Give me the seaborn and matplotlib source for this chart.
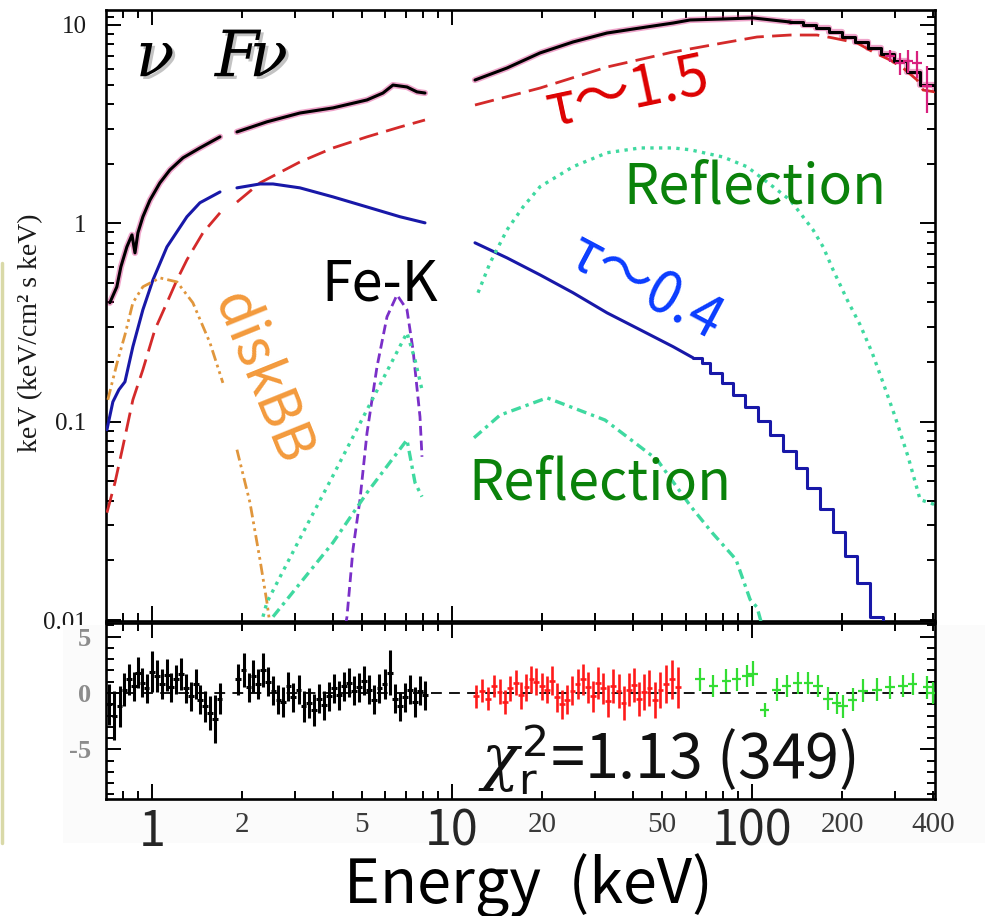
import matplotlib
matplotlib.use("Agg")
import pandas as pd
import matplotlib.pyplot as plt
import matplotlib.patheffects as pe
from matplotlib.lines import Line2D
from matplotlib.patches import Rectangle
from matplotlib.ticker import FixedLocator, FixedFormatter, NullFormatter, MultipleLocator
import seaborn as sns

# ---------------- data (keV, keV^2/cm^2/s/keV) ----------------
total_lo_E = [0.724, 0.764, 0.788, 0.825, 0.858, 0.878, 0.898, 0.933, 0.985, 1.063, 1.148, 1.269, 1.445, 1.686]
total_lo_V = [0.398, 0.479, 0.604, 0.761, 0.875, 0.710, 0.896, 1.08, 1.31, 1.60, 1.86, 2.14, 2.40, 2.73]
total_mid_E = [1.920, 2.417, 3.114, 4.012, 5.21, 5.888, 6.358, 7.079, 7.643, 8.128]
total_mid_V = [2.89, 3.25, 3.60, 3.82, 4.19, 4.54, 4.98, 4.87, 4.60, 4.54]
total_hi_E = [11.93, 15.25, 19.65, 25.31, 32.86, 42.34, 54.55, 62.13, 80.1, 100.8, 133.9]
total_hi_V = [5.28, 6.07, 7.23, 8.21, 9.11, 9.66, 10.23, 10.60, 10.72, 10.85, 10.35]
total_step_E = [133.9, 147.9, 163.4, 180.6, 199.5, 220.4, 243.6, 269.2, 297.4, 328.6, 363.1, 407.0]
total_step_V = [10.35, 10.0, 9.66, 9.22, 8.70, 8.21, 7.66, 7.14, 6.58, 5.80, 4.98, 4.70]

tau15_lo_E = [0.708, 0.753, 0.800, 0.864, 0.933, 1.023, 1.122, 1.212, 1.308, 1.479, 1.686]
tau15_lo_V = [0.0348, 0.0493, 0.0748, 0.129, 0.183, 0.291, 0.398, 0.519, 0.655, 0.896, 1.13]
tau15_mid_E = [1.920, 2.291, 3.114, 4.012, 5.21, 6.709, 8.128]
tau15_mid_V = [1.28, 1.60, 2.04, 2.40, 2.73, 3.06, 3.32]
tau15_hi_E = [11.93, 19.65, 32.86, 54.55, 80.1, 103.9, 133.9, 164.7, 186.2, 223.9, 253.1, 288.4, 318.7, 354.8, 371.5, 407.0]
tau15_hi_V = [3.95, 4.81, 6.14, 7.31, 8.12, 8.70, 8.90, 8.90, 8.60, 8.12, 7.31, 6.66, 6.07, 5.28, 4.70, 4.60]

tau04_lo_E = [0.708, 0.741, 0.776, 0.813, 0.864, 0.933, 1.008, 1.122, 1.308, 1.445, 1.686]
tau04_lo_V = [0.0912, 0.126, 0.145, 0.159, 0.239, 0.367, 0.519, 0.761, 1.08, 1.27, 1.44]
tau04_mid_E = [1.920, 2.291, 2.532, 3.114, 4.012, 5.21, 6.709, 8.128]
tau04_mid_V = [1.51, 1.58, 1.58, 1.51, 1.36, 1.21, 1.08, 1.006]
tau04_hi_E = [11.93, 15.25, 19.65, 25.31, 32.86, 42.34, 54.55, 63.6]
tau04_hi_V = [0.798, 0.670, 0.550, 0.447, 0.354, 0.291, 0.239, 0.210]
tau04_step_E = [63.6, 68.1, 72.4, 79.4, 86.5, 94.8, 104.7, 114.8, 126.9, 140.2, 152.5, 168.5, 186.2, 204.2, 223.9, 247.5, 273.4]
tau04_step_V = [0.210, 0.198, 0.177, 0.157, 0.137, 0.119, 0.1012, 0.0860, 0.0714, 0.0587, 0.0465, 0.0364, 0.0279, 0.0211, 0.0153, 0.0104, 0.0088]

disk_lo_E = [0.713, 0.741, 0.770, 0.813, 0.864, 0.933, 1.063, 1.212, 1.369, 1.561, 1.724]
disk_lo_V = [0.129, 0.163, 0.205, 0.274, 0.398, 0.479, 0.531, 0.507, 0.398, 0.250, 0.157]
disk_mid_E = [1.920, 2.122, 2.291, 2.417, 2.474]
disk_mid_V = [0.0723, 0.0391, 0.0202, 0.0123, 0.0095]

fek_E = [4.33, 4.467, 4.677, 4.936, 5.21, 5.623, 6.072, 6.556, 7.079, 7.413, 7.822, 7.943]
fek_V = [0.0079, 0.0104, 0.0227, 0.0405, 0.0880, 0.189, 0.338, 0.436, 0.367, 0.231, 0.106, 0.0666]

refl1_lo_E = [2.344, 2.417, 3.114, 4.012, 5.21, 7.079, 7.53, 7.943]
refl1_lo_V = [0.0104, 0.0123, 0.0258, 0.0535, 0.115, 0.281, 0.205, 0.145]
refl2_lo_E = [2.532, 4.012, 5.21, 7.079, 7.53, 7.943]
refl2_lo_V = [0.0104, 0.0246, 0.0439, 0.0811, 0.0493, 0.0419]
refl1_hi_E = [12.21, 13.39, 15.25, 17.25, 19.65, 25.31, 32.86, 42.34, 54.55, 62.13, 80.1, 96.2, 117.5, 133.9,
              144.5, 159.7, 172.5, 186.2, 207.4, 229.1, 251.2, 273.4, 299.7, 331.1, 363.1, 407.0]
refl1_hi_V = [0.447, 0.632, 0.927, 1.21, 1.53, 1.93, 2.27, 2.40, 2.40, 2.35, 2.16, 1.93, 1.53, 1.31,
              1.13, 0.927, 0.761, 0.583, 0.412, 0.308, 0.223, 0.157, 0.106, 0.0666, 0.0405, 0.0382]
refl2_hi_E = [11.84, 14.45, 20.74, 32.36, 48.24, 62.6, 73.6, 88.4, 98.5, 103.9, 110.0]
refl2_hi_V = [0.0830, 0.108, 0.132, 0.102, 0.0644, 0.0373, 0.0276, 0.0202, 0.0127, 0.0116, 0.0085]

data_hi_E = [288.0, 312.0, 331.0, 355.0, 383.0]
data_hi_V = [7.0, 6.4, 6.6, 6.4, 4.9]
data_hi_err = [0.5, 0.8, 0.9, 1.0, 1.3]

# residuals (chi)
res_lo_E = [0.72, 0.75, 0.78, 0.81, 0.84, 0.87, 0.90, 0.93, 0.96, 1.00, 1.04, 1.08, 1.12, 1.16, 1.20, 1.25,
            1.30, 1.35, 1.40, 1.45, 1.50, 1.56, 1.62, 1.68,
            1.94, 2.02, 2.10, 2.18, 2.26, 2.35, 2.44, 2.54, 2.64, 2.74, 2.85, 2.96, 3.08, 3.20, 3.33, 3.46,
            3.60, 3.74, 3.89, 4.04, 4.20, 4.37, 4.54, 4.72, 4.91, 5.10, 5.30, 5.51, 5.73, 5.96, 6.20, 6.45,
            6.70, 6.97, 7.25, 7.54, 7.84, 8.15]
res_lo_V = [-1.0, -2.0, -1.2, 0.3, 1.2, 0.6, 1.8, 0.9, 0.4, 1.9, 1.5, 0.8, 1.6, 0.5, 1.2, 1.7,
            0.4, -0.3, 0.8, -0.6, -1.2, -1.8, -2.3, -0.5,
            1.2, 2.0, 0.5, 1.5, 0.8, 2.0, 1.0, 0.2, -0.6, -0.8, 0.6, -0.4, 0.3, -1.2, -0.9, -1.5,
            -0.5, -1.1, -0.3, 0.4, -0.2, 0.6, 0.9, 0.2, 0.5, 1.1, 0.3, -0.6, 0.4, 0.8, 1.8, -0.5,
            -1.2, -0.4, 0.3, -0.8, 0.2, -0.2]
res_lo_err = [1.8, 2.2, 1.8, 1.5, 1.4, 1.3, 1.4, 1.3, 1.3, 1.8, 1.4, 1.3, 1.4, 1.3, 1.3, 1.4,
              1.3, 1.3, 1.3, 1.3, 1.4, 1.5, 2.1, 1.4,
              1.4, 1.5, 1.3, 1.4, 1.3, 1.5, 1.3, 1.3, 1.3, 1.3, 1.3, 1.3, 1.3, 1.4, 1.3, 1.4,
              1.3, 1.3, 1.3, 1.3, 1.3, 1.3, 1.3, 1.3, 1.3, 1.3, 1.3, 1.3, 1.3, 1.3, 2.0, 1.3,
              1.3, 1.3, 1.3, 1.3, 1.3, 1.3]
res_mid_E = [12.0, 12.6, 13.2, 13.8, 14.4, 15.0, 15.6, 16.3, 17.0, 17.7, 18.4, 19.1, 19.9, 20.7, 21.5, 22.4,
             23.3, 24.2, 25.2, 26.2, 27.3, 28.4, 29.5, 30.7, 31.9, 33.2, 34.5, 35.9, 37.3, 38.8, 40.4, 42.0,
             43.7, 45.5, 47.5, 49.5, 51.7, 54.0, 56.5]
res_mid_V = [-0.3, 0.2, -0.5, 0.6, 0.1, -0.8, 0.4, 0.9, -0.2, 0.5, 1.2, 1.0, 0.6, 0.3, 1.1, -0.4,
             -1.0, -0.6, 0.2, 0.8, 1.2, 0.5, -0.3, 0.9, 0.4, -0.7, 0.6, 0.2, -0.9, 0.3, 0.7, -0.5,
             0.1, 0.4, -0.6, 0.3, 0.8, 1.2, 0.5]
res_mid_err = [1.0, 1.0, 1.0, 1.0, 1.1, 1.1, 1.1, 1.1, 1.2, 1.2, 1.2, 1.2, 1.2, 1.2, 1.3, 1.3,
               1.3, 1.3, 1.3, 1.3, 1.4, 1.4, 1.4, 1.4, 1.4, 1.4, 1.5, 1.5, 1.5, 1.5, 1.5, 1.5,
               1.6, 1.6, 1.6, 1.6, 1.7, 1.7, 1.8]
res_hi_E = [67.1, 74.2, 82.1, 88.9, 96.2, 100.8, 110.2, 120.9, 130.6, 141.9, 153.9, 165.9, 179.1, 191.6,
            201.1, 216.8, 234.4, 261.0, 288.4, 318.7, 343.6, 383.2, 401.0]
res_hi_V = [1.2, 0.6, 1.1, 1.2, 1.5, 1.7, -1.5, 0.3, 0.6, 0.9, 0.9, 0.6, -0.5, -0.9,
            -1.2, -0.6, 0.2, 0.3, 0.5, 0.6, 0.8, 0.5, 0.0]
res_hi_err = [1.0, 1.0, 1.0, 1.0, 1.0, 1.1, 0.6, 1.0, 1.0, 1.0, 1.0, 1.0, 1.0, 1.0,
              1.0, 1.0, 1.0, 1.0, 1.0, 1.0, 1.0, 1.0, 1.0]

# ---------------- figure ----------------
sns.set_theme(style="ticks")
plt.rcParams["font.family"] = ["Noto Sans CJK JP", "DejaVu Sans"]
plt.rcParams["mathtext.fontset"] = "dejavuserif"
plt.rcParams["axes.unicode_minus"] = False

W, H = 985, 916
fig = plt.figure(figsize=(W / 100, H / 100), dpi=100)
fig.patch.set_facecolor("white")


def fx(p):
    return p / W


def fy(p):
    return 1 - p / H


ax = fig.add_axes([fx(106), fy(621), fx(935) - fx(106), fy(10) - fy(621)])
axr = fig.add_axes([fx(106), fy(799), fx(935) - fx(106), fy(623) - fy(799)])
ax.set_zorder(0)
axr.set_zorder(2)
# pale backdrop of the residual strip (covers the lower half of the "0.01" label, as in the reference)
fig.add_artist(Rectangle((fx(63), fy(843)), 1 - fx(63), fy(625) - fy(843), transform=fig.transFigure,
                         facecolor="#fbfbfb", edgecolor="none", zorder=1))

ax.set_xscale("log")
ax.set_yscale("log")
axr.set_xscale("log")


def draw(axis, E, V, color, ls="-", lw=2.0, ds="default", alpha=1.0, z=3):
    df = pd.DataFrame({"E": E, "V": V})
    sns.lineplot(data=df, x="E", y="V", ax=axis, color=color, linestyle=ls,
                 linewidth=lw, drawstyle=ds, alpha=alpha, sort=False,
                 estimator=None, legend=False, zorder=z)


MAG = "#d8207e"
RED = "#d42a2a"
BLUE = "#1818a8"
ORANGE = "#e0963c"
PURPLE = "#7a2fc8"
REFL = "#3fd9a0"

# magenta data halo under the total model
for E, V in [(total_lo_E, total_lo_V), (total_mid_E, total_mid_V), (total_hi_E, total_hi_V)]:
    draw(ax, E, V, MAG, lw=4.5, alpha=0.4, z=2)
draw(ax, total_step_E, total_step_V, MAG, lw=4.5, alpha=0.4, z=2, ds="steps-post")

# components
RDASH = (0, (7, 3))
for E, V in [(tau15_lo_E, tau15_lo_V), (tau15_mid_E, tau15_mid_V), (tau15_hi_E, tau15_hi_V)]:
    draw(ax, E, V, RED, ls=RDASH, lw=2.0)
for E, V in [(tau04_lo_E, tau04_lo_V), (tau04_mid_E, tau04_mid_V), (tau04_hi_E, tau04_hi_V)]:
    draw(ax, E, V, BLUE, lw=2.2)
draw(ax, tau04_step_E, tau04_step_V, BLUE, lw=2.2, ds="steps-post")
ODASH = (0, (4, 1.5, 1, 1.5, 1, 1.5))
draw(ax, disk_lo_E, disk_lo_V, ORANGE, ls=ODASH, lw=2.0)
draw(ax, disk_mid_E, disk_mid_V, ORANGE, ls=ODASH, lw=2.0)
draw(ax, fek_E, fek_V, PURPLE, ls=(0, (3.5, 1.8)), lw=2.0)
DOT = (0, (1, 1.6))
DASHDOT = (0, (3, 1.5, 1, 1.5))
draw(ax, refl1_lo_E, refl1_lo_V, REFL, ls=DOT, lw=2.4)
draw(ax, refl2_lo_E, refl2_lo_V, REFL, ls=DASHDOT, lw=2.4)
draw(ax, refl1_hi_E, refl1_hi_V, REFL, ls=DOT, lw=2.4)
draw(ax, refl2_hi_E, refl2_hi_V, REFL, ls=DASHDOT, lw=2.4)

# total model
for E, V in [(total_lo_E, total_lo_V), (total_mid_E, total_mid_V), (total_hi_E, total_hi_V)]:
    draw(ax, E, V, "black", lw=2.2, z=4)
draw(ax, total_step_E, total_step_V, "black", lw=2.2, z=4, ds="steps-post")
ax.errorbar(data_hi_E, data_hi_V, yerr=data_hi_err, xerr=[e * 0.04 for e in data_hi_E],
            fmt="none", ecolor=MAG, elinewidth=1.6, zorder=5)

# residuals
axr.axhline(0, color="black", ls=(0, (6, 4)), lw=1.3, zorder=1)
axr.errorbar(res_lo_E, res_lo_V, yerr=res_lo_err, xerr=[e * 0.022 for e in res_lo_E],
             fmt="none", ecolor="black", elinewidth=2.2, zorder=3)
axr.errorbar(res_mid_E, res_mid_V, yerr=res_mid_err, xerr=[e * 0.022 for e in res_mid_E],
             fmt="none", ecolor="#ff1a1a", elinewidth=1.9, zorder=3)
axr.errorbar(res_hi_E, res_hi_V, yerr=res_hi_err, xerr=[e * 0.035 for e in res_hi_E],
             fmt="none", ecolor="#33dd33", elinewidth=1.6, zorder=3)

# ---------------- axes styling ----------------
minor_x = [0.8, 0.9, 2, 3, 4, 5, 6, 7, 8, 9, 20, 30, 40, 50, 60, 70, 80, 90, 200, 300, 400]
for a in (ax, axr):
    a.set_xlim(0.703, 407)
    a.set_xlabel("")
    a.set_ylabel("")
    a.set_facecolor("white")
    a.xaxis.set_major_locator(FixedLocator([1, 10, 100]))
    a.xaxis.set_minor_locator(FixedLocator(minor_x))
    a.tick_params(which="both", direction="in", top=True, right=True, width=1.4, color="black")
    a.tick_params(which="major", length=11)
    a.tick_params(which="minor", length=6)
    for s in a.spines.values():
        s.set_linewidth(1.9)
        s.set_color("black")

ax.set_ylim(0.0099, 11.9)
ax.set_yticks([0.01, 0.1, 1, 10])
ax.set_yticklabels(["0.01", "0.1", "1", "10"])
ax.yaxis.set_minor_locator(FixedLocator([m * d for d in (0.01, 0.1, 1) for m in range(2, 10)] + [11]))
ax.yaxis.set_minor_formatter(NullFormatter())
ax.tick_params(axis="x", which="both", labelbottom=False)
ax.tick_params(axis="y", which="major", pad=14)
for t in ax.get_yticklabels():
    t.set_fontfamily("Liberation Serif")
    t.set_fontsize(18)
    t.set_color("#1a1a1a")

axr.set_ylim(-9.4, 6.2)
axr.yaxis.set_major_locator(FixedLocator([-5, 0, 5]))
axr.yaxis.set_major_formatter(FixedFormatter(["-5", "0", "5"]))
axr.yaxis.set_minor_locator(MultipleLocator(1))
axr.tick_params(axis="y", which="major", pad=11)
for t in axr.get_yticklabels():
    t.set_fontfamily("Liberation Serif")
    t.set_fontsize(19)
    t.set_fontweight("bold")
    t.set_color("#8c8c8c")

axr.xaxis.set_major_formatter(FixedFormatter(["1", "10", "100"]))
minor_lab = {2: "2", 5: "5", 20: "20", 50: "50", 200: "200", 400: "400"}
axr.xaxis.set_minor_formatter(FixedFormatter([minor_lab.get(v, "") for v in minor_x]))
axr.tick_params(axis="x", which="major", pad=6, labelsize=35)
axr.tick_params(axis="x", which="minor", pad=9, labelsize=21, labelcolor="#3a3a3a")
for t in axr.get_xticklabels(minor=True):
    t.set_fontfamily("Liberation Serif")

# ---------------- text ----------------
fig.text(fx(31), fy(333), "keV (keV/cm² s keV)", rotation=90, ha="center", va="center",
         fontfamily="Liberation Serif", fontsize=20, color="#1a1a1a")
fig.text(fx(528), fy(903), "Energy  (keV)", ha="center", va="baseline", fontsize=44, color="black")

fig.text(fx(212), fy(58), r"$\nu\ \ F\!\nu$", ha="center", va="center", fontsize=46, color="black",
         path_effects=[pe.withSimplePatchShadow(offset=(2, -2), shadow_rgbFace="#888888", alpha=0.5)])
fig.text(fx(628), fy(93), "τ～1.5", ha="center", va="center", rotation=12, fontsize=41, color="#dd0000")
fig.text(fx(755), fy(188), "Reflection", ha="center", va="center", fontsize=40, color="#0a820a")
fig.text(fx(380), fy(285), "Fe-K", ha="center", va="center", fontsize=40, color="black")
fig.text(fx(262), fy(378), "diskBB", ha="center", va="center", rotation=-68, fontsize=40, color="#f39a3c")
fig.text(fx(645), fy(288), "τ～0.4", ha="center", va="center", rotation=-28, fontsize=41, color="#0a3cff")
fig.text(fx(600), fy(484), "Reflection", ha="center", va="center", fontsize=40, color="#0a820a")
fig.text(fx(667), fy(760), r"$\chi_{\mathsf{r}}^{\mathsf{2}}$=1.13 (349)", ha="center", va="center",
         fontsize=44, color="#111111", zorder=5)

fig.add_artist(Line2D([fx(2), fx(2)], [fy(263), fy(843)], color="#d9d9a8", lw=2.5))

fig.savefig("out.png", dpi=100, facecolor="white")
